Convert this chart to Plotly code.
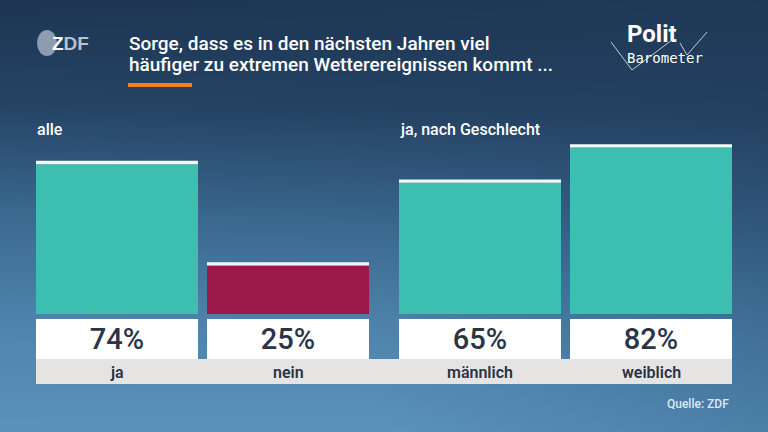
import plotly.graph_objects as go

W, H = 768, 432

# ---- data ----
group_all = ["ja", "nein"]
values_all = [74, 25]
colors_all = ["#3cbfb1", "#9b1848"]

group_sex = ["männlich", "weiblich"]
values_sex = [65, 82]
colors_sex = ["#3cbfb1", "#3cbfb1"]

value_labels_all = ["74%", "25%"]
value_labels_sex = ["65%", "82%"]

title_lines = ["Sorge, dass es in den nächsten Jahren viel",
               "häufiger zu extremen Wetterereignissen kommt ..."]
panel_titles = ["alle", "ja, nach Geschlecht"]
source = "Quelle: ZDF"

# background gradient grid (lightness values)
bg_x = [0, 384, 768]
bg_y = [0, 108, 216, 324, 432]
bg_z = [[0.0, 0.02, 0.04],
        [0.15, 0.12, 0.10],
        [0.50, 0.45, 0.30],
        [0.80, 0.78, 0.55],
        [0.97, 0.97, 0.75]]

CAP = 1.6
TEXT_DARK = "#2b3446"
FONT = "Roboto"


def px(x):
    return x / W


def py(y):
    return (H - y) / H


fig = go.Figure()

# background
fig.add_trace(go.Heatmap(x=bg_x, y=bg_y, z=bg_z, zsmooth="best",
                         colorscale=[[0, "#1d3553"], [0.5, "#3b6a91"], [1, "#5d95bd"]],
                         zmin=0, zmax=1, showscale=False, hoverinfo="skip",
                         xaxis="x", yaxis="y"))

w = 162 / 171.0  # bar width in category units


def add_group(cats, vals, cols, labels, xa, ya, yb):
    fig.add_trace(go.Bar(x=cats, y=[v - CAP for v in vals], marker=dict(color=cols, line=dict(width=0)),
                         width=w, xaxis=xa, yaxis=ya, hoverinfo="skip"))
    fig.add_trace(go.Bar(x=cats, y=[CAP] * len(vals), base=[v - CAP for v in vals],
                         marker=dict(color="#f2f7f7", line=dict(width=0)),
                         width=w, xaxis=xa, yaxis=ya, hoverinfo="skip"))
    fig.add_trace(go.Bar(x=cats, y=[1] * len(vals), marker=dict(color="white", line=dict(width=0)),
                         width=w, xaxis=xa, yaxis=yb, text=labels, textposition="inside",
                         insidetextanchor="middle", constraintext="none",
                         textfont=dict(size=29, color=TEXT_DARK, family=FONT, weight=500),
                         hoverinfo="skip"))


add_group(group_all, values_all, colors_all, value_labels_all, "x2", "y2", "y4")
add_group(group_sex, values_sex, colors_sex, value_labels_sex, "x3", "y3", "y5")

hidden = dict(showgrid=False, zeroline=False, showticklabels=False, ticks="", showline=False)
bar_top = 107
fig.update_layout(
    width=W, height=H, margin=dict(l=0, r=0, t=0, b=0),
    paper_bgcolor="#1d3553", plot_bgcolor="rgba(0,0,0,0)",
    showlegend=False, barmode="overlay",
    xaxis=dict(domain=[0, 1], range=[0, W], **hidden),
    yaxis=dict(domain=[0, 1], range=[H, 0], **hidden),
    xaxis2=dict(domain=[px(36), px(369)], range=[-w / 2, 1 + w / 2], type="category",
                categoryarray=group_all, anchor="y2", **hidden),
    xaxis3=dict(domain=[px(399), px(732)], range=[-w / 2, 1 + w / 2], type="category",
                categoryarray=group_sex, anchor="y3", **hidden),
    yaxis2=dict(domain=[py(314), py(bar_top)], range=[0, 100], anchor="x2", **hidden),
    yaxis3=dict(domain=[py(314), py(bar_top)], range=[0, 100], anchor="x3", **hidden),
    yaxis4=dict(domain=[py(359), py(319)], range=[0, 1], anchor="x2", **hidden),
    yaxis5=dict(domain=[py(359), py(319)], range=[0, 1], anchor="x3", **hidden),
)

shapes = []
# grey label strip
shapes.append(dict(type="rect", xref="paper", yref="paper", x0=px(36), x1=px(732),
                   y0=py(384), y1=py(359), fillcolor="#e6e4e3", line=dict(width=0), layer="above"))
# orange accent line
shapes.append(dict(type="rect", xref="paper", yref="paper", x0=px(128), x1=px(192),
                   y0=py(87), y1=py(83), fillcolor="#f5821f", line=dict(width=0)))
# ZDF logo circle
shapes.append(dict(type="circle", xref="paper", yref="paper", x0=px(37), x1=px(57),
                   y0=py(56), y1=py(30), fillcolor="#8d9cae", line=dict(width=0)))
# Politbarometer check lines
for path in [[(611, 42), (632, 70), (672, 40)], [(680, 43), (687, 55), (707, 32)]]:
    d = " ".join(("M" if i == 0 else "L") + f"{px(a)},{py(b)}" for i, (a, b) in enumerate(path))
    shapes.append(dict(type="path", xref="paper", yref="paper", path=d,
                       line=dict(color="#c3ccd6", width=1)))
fig.update_layout(shapes=shapes)

ann = []


def text(x, y, s, size, color="white", weight=400, xanchor="left", family=FONT, yanchor="middle"):
    ann.append(dict(x=px(x), y=py(y), xref="paper", yref="paper", text=s,
                    showarrow=False, xanchor=xanchor, yanchor=yanchor, align="left",
                    font=dict(size=size, color=color, family=family, weight=weight)))


text(127, 43, title_lines[0], 19, weight=500)
text(127, 64, title_lines[1], 19, weight=500)
text(35, 129, panel_titles[0], 16, weight=500)
text(398, 129, panel_titles[1], 16, weight=500)
text(731, 404, source, 12, color="#dce8f2", weight=500, xanchor="right")
for c in group_all:
    ann.append(dict(x=c, y=py(372), xref="x2", yref="paper", text=c, showarrow=False,
                    yanchor="middle", font=dict(size=16, color=TEXT_DARK, family=FONT, weight=600)))
for c in group_sex:
    ann.append(dict(x=c, y=py(372), xref="x3", yref="paper", text=c, showarrow=False,
                    yanchor="middle", font=dict(size=16, color=TEXT_DARK, family=FONT, weight=600)))
# logos
text(50, 43, "<span style='color:white'>Z</span>DF", 19, color="#b7c2ce", weight=700,
     family="Liberation Sans")
text(625, 34, "Polit", 24, weight=700)
text(625, 58, "Barometer", 14, weight=400, family="DejaVu Sans Mono")
fig.update_layout(annotations=ann)

fig.write_html("out.html")
